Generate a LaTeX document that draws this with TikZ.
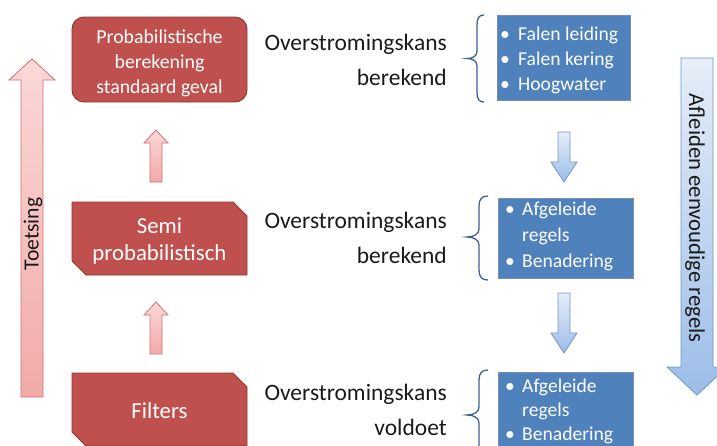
\documentclass[tikz,border=0pt]{standalone}
\usepackage{fontspec}
\setmainfont{Carlito}
\newcommand\myfs[1]{\fontsize{#1}{#1}\selectfont}
\definecolor{redfill}{HTML}{C0504D}
\definecolor{redline}{HTML}{8C3836}
\definecolor{bluefill}{HTML}{4F81BD}
\definecolor{blueline}{HTML}{385D8A}
\definecolor{pinktop}{HTML}{FAD8D7}
\definecolor{pinkbot}{HTML}{F2AAA9}
\definecolor{pinkline}{HTML}{D07270}
\definecolor{lbtop}{HTML}{E6EEF8}
\definecolor{lbbot}{HTML}{9CBDE8}
\definecolor{lbline}{HTML}{6E95C9}
\definecolor{txt}{HTML}{1A1A1A}
\definecolor{bracecol}{HTML}{3B6193}
\tikzset{
  redbox/.style={draw=redline, fill=redfill, line width=0.9pt},
  bluebox/.style={draw=blueline!70, fill=bluefill, line width=0.6pt},
  pinkarrow/.style={draw=pinkline, top color=pinktop, bottom color=pinkbot, line width=0.8pt, line join=miter},
  bluearrow/.style={draw=lbline, top color=lbtop, bottom color=lbbot, line width=0.8pt, line join=miter},
  wtxt/.style={text=white, inner sep=0pt},
  ktxt/.style={text=txt, inner sep=0pt, font=\myfs{23.5}},
  btxt/.style={text=white, inner sep=0pt, font=\myfs{19.6}, anchor=base west},
  bracestyle/.style={draw=bracecol, line width=1.3pt},
}
\begin{document}
\begin{tikzpicture}[x=1pt,y=-1pt]
\useasboundingbox (0,0) rectangle (717,445);
\clip (0,0) rectangle (717,445);

% Toetsing arrow
\draw[pinkarrow] (21,397) -- (21,80) -- (9,80) -- (32,59) -- (55,80) -- (43,80) -- (43,397) -- cycle;
\node[inner sep=0pt, text=txt, font=\myfs{21.7}, rotate=90] (toets) at (33,234) {Toetsing};

% Afleiden arrow
\draw[bluearrow] (681,58) -- (713,58) -- (713,367) -- (727,367) -- (697,395) -- (667,367) -- (681,367) -- cycle;
\node[inner sep=0pt, text=txt, font=\myfs{22.7}, rotate=-90] (afl) at (695,218) {Afleiden eenvoudige regels};

% red boxes
\draw[redbox, rounded corners=12pt] (72,17) rectangle (247,102);
\node[wtxt, font=\myfs{19.8}, anchor=base] (p1) at (159.5,43) {Probabilistische};
\node[wtxt, font=\myfs{19.8}, anchor=base] (p2) at (159.5,68) {berekening};
\node[wtxt, font=\myfs{19.8}, anchor=base] (p3) at (159.5,93) {standaard geval};

\draw[redbox] (72,202) -- (233,202) -- (247,216) -- (247,275) -- (86,275) -- (72,261) -- cycle;
\node[wtxt, font=\myfs{22.8}, anchor=base] (s1) at (159.5,233) {Semi};
\node[wtxt, font=\myfs{22.8}, anchor=base] (s2) at (159.5,260) {probabilistisch};

\draw[redbox] (72,373) -- (233,373) -- (247,387) -- (247,446) -- (86,446) -- (72,432) -- cycle;
\node[wtxt, font=\myfs{22.8}, anchor=base] (f1) at (159.5,418) {Filters};

% small red up arrows
\draw[pinkarrow] (150,182) -- (150,143) -- (144,143) -- (156,130) -- (168,143) -- (162,143) -- (162,182) -- cycle;
\draw[pinkarrow] (150,354) -- (150,315) -- (144,315) -- (156,302) -- (168,315) -- (162,315) -- (162,354) -- cycle;

% black texts
\node[ktxt, anchor=base east] (o1) at (447,50) {Overstromingskans};
\node[ktxt, anchor=base east] (k1) at (447,85) {berekend};
\node[ktxt, anchor=base east] (o2) at (447,228) {Overstromingskans};
\node[ktxt, anchor=base east] (k2) at (447,263) {berekend};
\node[ktxt, anchor=base east] (o3) at (447,400) {Overstromingskans};
\node[ktxt, anchor=base east] (k3) at (447,435) {voldoet};

% braces
\draw[bracestyle] (484,15) .. controls (479,15) and (477,18) .. (477,25) -- (477,51)
  .. controls (477,56) and (473,58.5) .. (467,58.5) .. controls (473,58.5) and (477,61) .. (477,66)
  -- (477,92) .. controls (477,99) and (479,102) .. (484,102);
\draw[bracestyle] (488,196) .. controls (482,196) and (479,199) .. (479,206) -- (479,229)
  .. controls (479,234) and (474,237) .. (467,237) .. controls (474,237) and (479,240) .. (479,245)
  -- (479,270) .. controls (479,277) and (482,280) .. (488,280);
\draw[bracestyle] (488,370) .. controls (482,370) and (479,373) .. (479,380) -- (479,407)
  .. controls (479,412) and (474,415) .. (467,415) .. controls (474,415) and (479,418) .. (479,423)
  -- (479,448) .. controls (479,455) and (482,458) .. (488,458);

% blue boxes
\draw[bluebox] (497,15) rectangle (630,100);
\node[btxt] (l11) at (500,40) {\makebox[18pt][l]{\textbullet}Falen leiding};
\node[btxt] (l12) at (500,65) {\makebox[18pt][l]{\textbullet}Falen kering};
\node[btxt] (l13) at (500,90) {\makebox[18pt][l]{\textbullet}Hoogwater};

\draw[bluebox] (498,198) rectangle (633,278);
\node[btxt] (l21) at (505,215) {\makebox[17pt][l]{\textbullet}Afgeleide};
\node[btxt] (l22) at (522,241) {regels};
\node[btxt] (l23) at (505,267) {\makebox[17pt][l]{\textbullet}Benadering};

\draw[bluebox] (498,372) rectangle (633,456);
\node[btxt] (l31) at (505,392) {\makebox[17pt][l]{\textbullet}Afgeleide};
\node[btxt] (l32) at (522,416) {regels};
\node[btxt] (l33) at (505,440.5) {\makebox[17pt][l]{\textbullet}Benadering};

% small blue down arrows
\draw[bluearrow] (558,132) -- (570,132) -- (570,162) -- (577,162) -- (564,182) -- (551,162) -- (558,162) -- cycle;
\draw[bluearrow] (558,293) -- (570,293) -- (570,333) -- (577,333) -- (564,353) -- (551,333) -- (558,333) -- cycle;
\end{tikzpicture}
\end{document}
